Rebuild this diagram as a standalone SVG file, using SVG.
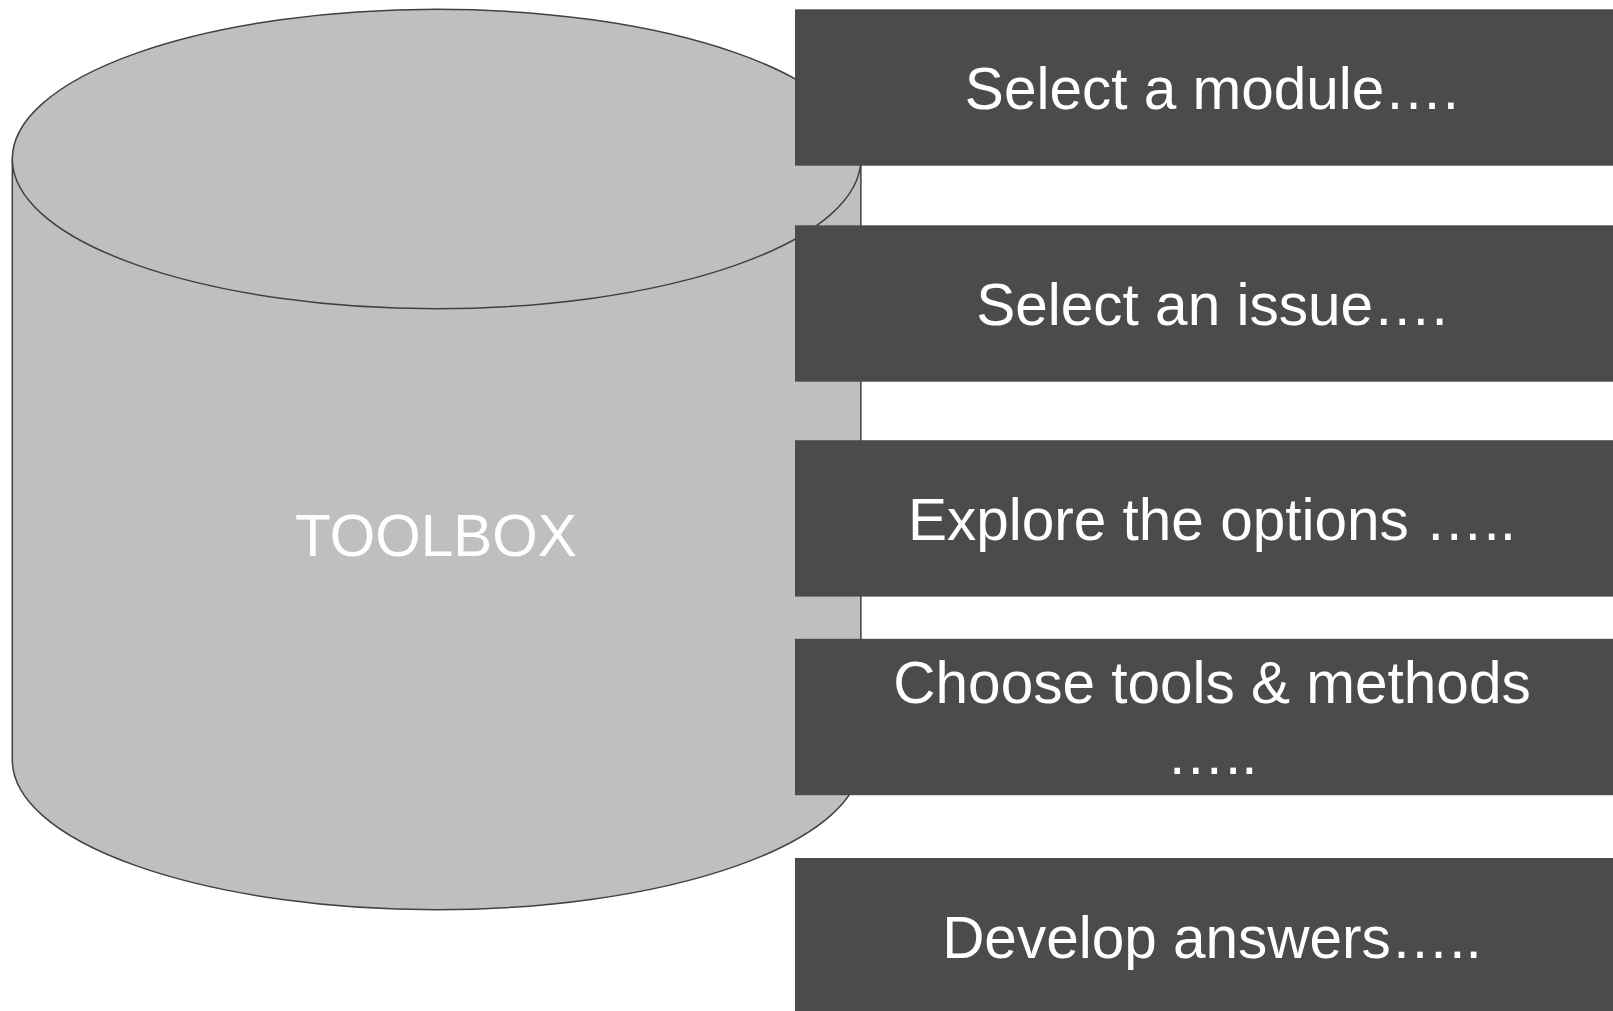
<svg xmlns="http://www.w3.org/2000/svg" width="1613" height="1011" viewBox="0 0 1613 1011">
<style>
.cyl{fill:#bfbfbf;stroke:#404040;stroke-width:1.5}
.box{fill:#4b4b4b}
.t{font-family:"Liberation Sans",Arial,sans-serif;font-size:58.5px;fill:#ffffff;text-anchor:middle}
</style>
<rect width="1613" height="1011" fill="#ffffff"/>
<g id="toolbox">
<path class="cyl" d="M12.3,159 V760 A424.3,149.7 0 0 0 860.9,760 V159"/>
<ellipse class="cyl" cx="436.6" cy="159" rx="424.3" ry="149.7"/>
<text class="t" x="436" y="556">TOOLBOX</text>
</g>
<g id="connectors"></g>
<g id="step1">
<rect class="box" x="795" y="9.3" width="830" height="156.4"/>
<text class="t" x="1212" y="109">Select a module….</text>
</g>
<g id="step2">
<rect class="box" x="795" y="225.3" width="830" height="156.4"/>
<text class="t" x="1212" y="325">Select an issue….</text>
</g>
<g id="step3">
<rect class="box" x="795" y="440.2" width="830" height="156.4"/>
<text class="t" x="1212" y="540">Explore the options …..</text>
</g>
<g id="step4">
<rect class="box" x="795" y="638.8" width="830" height="156.4"/>
<text class="t" x="1212" y="703">Choose tools &amp; methods</text>
<text class="t" x="1212" y="774">…..</text>
</g>
<g id="step5">
<rect class="box" x="795" y="858" width="830" height="156.4"/>
<text class="t" x="1212" y="958">Develop answers…..</text>
</g>
</svg>
